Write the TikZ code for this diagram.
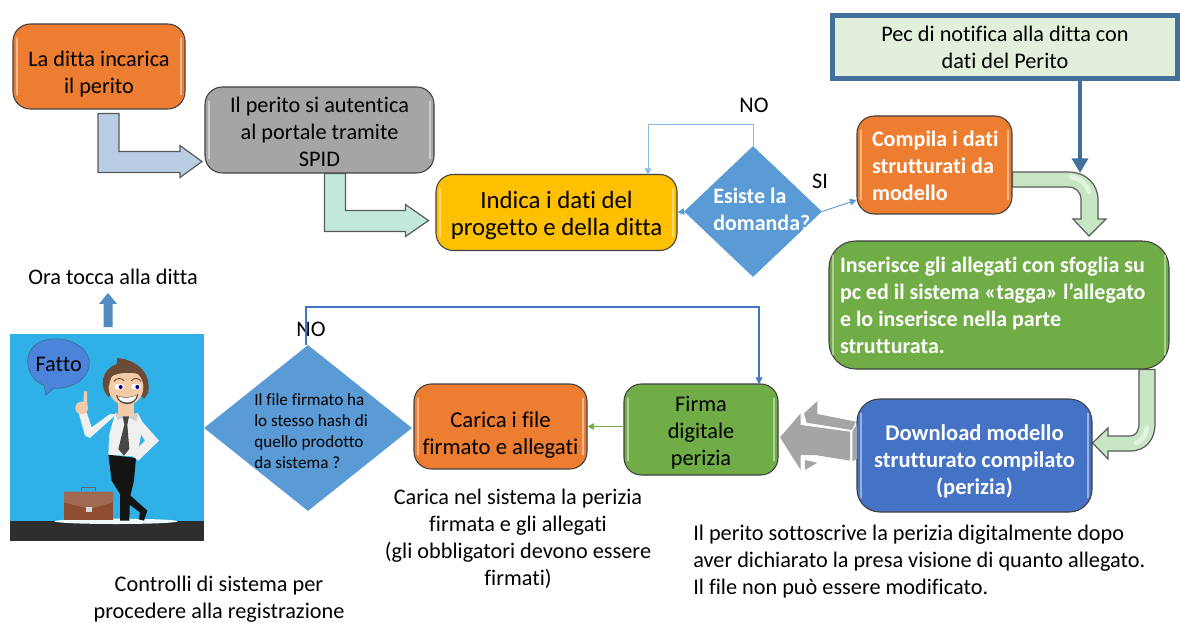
\documentclass[tikz,border=0pt]{standalone}
\usepackage{fontspec}
\setmainfont[RawFeature={-liga;-clig;-dlig}]{Carlito}
\usetikzlibrary{calc,arrows.meta,shapes.geometric}
\definecolor{orangeA}{HTML}{ED7D31}
\definecolor{grayA}{HTML}{A5A5A5}
\definecolor{yellowA}{HTML}{FFC000}
\definecolor{greenA}{HTML}{70AD47}
\definecolor{blueA}{HTML}{4472C4}
\definecolor{diaA}{HTML}{5B9BD5}
\definecolor{pecLine}{HTML}{41719C}
\definecolor{pecFill}{HTML}{E2EFDA}
\definecolor{sky}{HTML}{2FB1E8}
\definecolor{skin}{HTML}{F4CBA8}
\definecolor{hair}{HTML}{6B4A36}
\definecolor{case}{HTML}{8F4E34}
\definecolor{arrowBlue}{HTML}{B9CDE5}
\definecolor{arrowTeal}{HTML}{C3E8DE}
\definecolor{arrowGreen}{HTML}{C6E6C4}
\definecolor{arrowGlow}{HTML}{E2F3E1}
\tikzset{
  base/.style={font=\fontsize{16.7}{20.25}\selectfont,align=center,inner sep=0pt},
  gbox/.style={base,draw=black!75,line width=0.8pt,rounded corners=13pt},
  plain/.style={base},
  dia/.style={diamond,fill=diaA,inner sep=0pt,aspect=1},
  barrow/.style={draw=black!65,line width=0.9pt,line join=miter},
  glow/.style={arrowGlow,line width=3.5pt,line cap=round},
  thinarr/.style={line width=0.7pt,-{Triangle[length=5pt,width=5pt]}},
}
% text block moved down by #1 inside its node, #2 = column alignment
\newcommand{\Tx}[3]{\raisebox{\dimexpr-#1-0.25em\relax}[0pt][0pt]{\spaceskip=0pt \xspaceskip=0pt \begin{tabular}[c]{@{}#2@{}}#3\end{tabular}}}
\newcommand{\gloss}[1]{%
  \draw[white,opacity=.45,line width=1.5pt,line cap=round] ($(#1.north west)+(4.5,15)$) -- ($(#1.south west)+(4.5,-15)$);
  \draw[white,opacity=.45,line width=1.5pt,line cap=round] ($(#1.north east)+(-4.5,15)$) -- ($(#1.south east)+(-4.5,-15)$);
}
\begin{document}
\begin{tikzpicture}[x=0.75pt,y=-0.75pt]
\useasboundingbox (0,0) rectangle (1180,623);
% boxes
\node[gbox,fill=orangeA,minimum width=129pt,minimum height=63.75pt] (ditta) at (99,66.5) {\Tx{6pt}{c}{La ditta incarica\\il perito}};
\node[gbox,fill=grayA,minimum width=171.75pt,minimum height=64.5pt] (spid) at (319.5,130) {\Tx{3pt}{c}{Il perito si autentica\\al portale tramite\\SPID}};
\node[gbox,fill=yellowA,minimum width=180.75pt,minimum height=57pt,font=\fontsize{18.6}{20.25}\selectfont] (dati) at (556.5,212.5) {\Tx{2.6pt}{c}{Indica i dati del\\progetto e della ditta}};
\node[dia,minimum width=103.5pt,minimum height=98.25pt] (esiste) at (753,211.5) {};
\node[gbox,fill=orangeA,minimum width=116.25pt,minimum height=73.5pt,text=white,font=\fontsize{16.6}{20.25}\selectfont\bfseries,inner xsep=11.25pt,text width=93.75pt,align=left] (compila) at (934.5,165) {\Tx{2.5pt}{l}{Compila i dati\\strutturati da\\modello}};
\node[gbox,fill=greenA,minimum width=255pt,minimum height=96pt,text=white,font=\fontsize{16.5}{20.25}\selectfont\bfseries,inner xsep=8.25pt,text width=238.5pt,align=left,rounded corners=20pt] (inserisce) at (999,305) {\Tx{2.25pt}{l}{Inserisce gli allegati con sfoglia su\\pc ed il sistema «tagga» l’allegato\\e lo inserisce nella parte\\strutturata.}};
\node[gbox,fill=blueA,minimum width=176.25pt,minimum height=84.75pt,text=white,font=\fontsize{16.9}{20.25}\selectfont\bfseries,rounded corners=17pt] (download) at (974.5,455.5) {\Tx{4.75pt}{c}{Download modello\\strutturato compilato\\(perizia)}};
\node[gbox,fill=greenA,minimum width=115.5pt,minimum height=68.25pt] (firma) at (701,429.5) {\Tx{3pt}{c}{Firma\\digitale\\perizia}};
\node[gbox,fill=orangeA,minimum width=129.75pt,minimum height=63.75pt,font=\fontsize{17}{20.25}\selectfont] (carica) at (500.5,426.5) {\Tx{7pt}{c}{Carica i file\\firmato e allegati}};
\node[dia,minimum width=156pt,minimum height=124.5pt] (hash) at (308,428) {};
\node[draw=pecLine,line width=3.75pt,fill=pecFill,base,minimum width=258.75pt,minimum height=47.25pt] (pec) at (1005,47) {\Tx{2.25pt}{c}{Pec di notifica alla ditta con\\dati del Perito}};
\gloss{ditta}\gloss{spid}\gloss{dati}\gloss{compila}\gloss{inserisce}\gloss{download}\gloss{firma}\gloss{carica}
% diamond texts
\node[plain,text=white,font=\fontsize{16.5}{20.25}\selectfont\bfseries,align=left,anchor=west] (esisteT) at (713,209) {Esiste la\\domanda?};
\node[plain,font=\fontsize{12.85}{15.75}\selectfont,align=left,anchor=west] (hashT) at (254,431) {Il file firmato ha\\lo stesso hash di\\quello prodotto\\da sistema ?};
% free texts
\node[plain] (no1) at (754,105) {NO};
\node[plain] (si1) at (820,181) {SI};
\node[plain] (no2) at (311,329) {NO};
\node[plain] (ora) at (113,277) {Ora tocca alla ditta};
\node[plain] (ctrl) at (219,599.5) {Controlli di sistema per\\procedere alla registrazione};
\node[plain] (cnote) at (518,538.5) {Carica nel sistema la perizia\\firmata e gli allegati\\(gli obbligatori devono essere\\firmati)};
\node[plain,align=left,anchor=west] (pnote) at (693,562) {Il perito sottoscrive la perizia digitalmente dopo\\aver dichiarato la presa visione di quanto allegato.\\Il file non può essere modificato.};
% thin connectors
\coordinate (loopA) at (648,124);
\coordinate (loopB) at (648,175);
\draw[thinarr,draw=diaA!70] (esiste.north) |- (loopA) -- (loopB);
\draw[thinarr,draw=diaA] (esiste.west) -- (dati.east);
\draw[thinarr,draw=diaA] (esiste.east) -- (compila.west |- 0,200);
\draw[thinarr,draw=greenA] (firma.west |- carica.east) -- (carica.east);
\coordinate (noTop) at (306,307);
\coordinate (noEnd) at (759,384);
\draw[thinarr,line width=0.95pt,draw=blueA] (hash.north -| noTop) -- (noTop) -| (noEnd);
% block arrows
\draw[barrow,fill=arrowBlue] ($(ditta.south)+(-1,4)$) -- ++(21,0) -- ++(0,38) -- ++(61,0) -- ++(0,-6) -- ++(22,16) -- ++(-22,16) -- ++(0,-5) -- ++(-82,0) -- cycle;
\draw[barrow,fill=arrowTeal] ($(spid.south)+(5,0)$) -- ++(21,0) -- ++(0,37) -- ++(60,0) -- ++(0,-6) -- ++(23,16) -- ++(-23,16) -- ++(0,-5) -- ++(-81,0) -- cycle;
% curved arrows
\draw[barrow,fill=arrowGreen] (compila.east |- 0,172) -- (1068,172) .. controls (1086,172) and (1098,184) .. (1098,200) -- (1098,219) -- (1106,219) -- (1089,236) -- (1073,219) -- (1081,219) -- (1081,200) .. controls (1081,192) and (1076,187) .. (1068,187) -- (compila.east |- 0,187) -- cycle;
\draw[glow] (1071,177) .. controls (1080,178) and (1086,184) .. (1089,192);
\draw[barrow,fill=arrowGreen] (inserisce.south -| 1139,0) -- (inserisce.south -| 1155,0) -- (1155,423) .. controls (1155,440) and (1146,451) .. (1130,451) -- (1108,451) -- (1108,459) -- (download.east |- 0,443) -- (1108,428) -- (1108,436) -- (1130,436) .. controls (1136,436) and (1139,431) .. (1139,423) -- cycle;
\draw[glow] (1147,428) .. controls (1146,435) and (1142,441) .. (1136,443);
% pec arrow
\coordinate (pecTip) at (1080,173);
\draw[pecLine,line width=2.6pt,-{Triangle[length=11pt,width=12pt]}] (pec.south -| pecTip) -- (pecTip);
% gray block arrow
\begin{scope}[shift={(770,390)},x=0.25pt,y=-0.25pt]
\fill[grayA] (30,142) -- (92,70) -- (92,105) -- (240,125) -- (240,212) -- (135,195) -- (92,195) -- (92,240) -- cycle;
\fill[grayA] (102,70) -- (142,33) -- (142,72) -- (258,95) -- (245,120) -- (110,98) -- cycle;
\fill[grayA] (247,125) -- (262,100) -- (262,205) -- (247,215) -- cycle;
\fill[grayA] (105,210) -- (142,218) -- (105,240) -- cycle;
\end{scope}
% up arrow
\fill[diaA!90!black] (103.5,327) -- (103.5,304) -- (99,304) -- (108,293) -- (117,304) -- (112.5,304) -- (112.5,327) -- cycle;
% picture
\begin{scope}[shift={(10,334)},x=0.25pt,y=-0.25pt]
\fill[sky] (0,0) rectangle (582,560);
\fill[black!82] (0,560) rectangle (582,621);
\fill[white!92!sky] (318,562) ellipse [x radius=185,y radius=8];
% bubble
\draw[fill=diaA!85!blue,draw=pecLine,line width=0.6pt] (108,183) -- (103,155) .. controls (40,130) and (35,40) .. (100,20) .. controls (170,0) and (240,40) .. (238,90) .. controls (236,135) and (185,165) .. (130,163) -- cycle;
\node[plain] (fatto) at (146,90) {Fatto};
% briefcase
\fill[case] (162,473) rectangle (310,557);
\fill[case!85!white] (162,473) -- (310,473) -- (310,505) -- (240,525) -- (162,505) -- cycle;
\draw[black!60,line width=0.8pt] (215,472) -- (215,461) -- (257,461) -- (257,472);
\fill[black!15] (228,518) rectangle (245,535);
% legs
\fill[black!92] (295,362) -- (378,372) -- (372,440) -- (360,490) -- (358,560) -- (330,560) -- (330,480) -- (305,440) -- cycle;
\fill[black!92] (345,470) -- (412,530) -- (402,560) -- (386,556) -- (390,535) -- (335,495) -- cycle;
% shirt
\fill[black!6] (315,240) -- (385,240) -- (400,270) -- (380,368) -- (295,362) -- (298,300) -- cycle;
\fill[black!6] (320,240) -- (240,312) -- (225,305) -- (207,240) -- (230,235) -- (245,280) -- (300,240) -- cycle;
\fill[black!6] (385,250) -- (447,320) -- (385,380) -- (362,362) -- (405,320) -- (380,280) -- cycle;
\fill[black!18] (315,235) -- (345,248) -- (385,235) -- (380,262) -- (350,248) -- (322,258) -- cycle;
% tie
\fill[black!72] (338,247) -- (357,247) -- (352,272) -- (358,345) -- (342,365) -- (325,345) -- (343,272) -- cycle;
% hand
\fill[skin] (215,222) circle [radius=19];
\fill[skin] (220,210) -- (222,172) -- (231,172) -- (232,215) -- cycle;
% head
\fill[skin] (325,205) rectangle (372,245);
\fill[hair] (296,190) .. controls (268,160) and (270,110) .. (320,90) -- (322,72) .. controls (360,75) and (425,100) .. (415,175) -- (402,195) -- (340,120) -- cycle;
\fill[skin] (348,160) ellipse [x radius=52,y radius=54];
\fill[hair] (298,155) .. controls (296,115) and (325,98) .. (345,103) .. controls (375,100) and (410,112) .. (410,155) -- (395,122) .. controls (370,115) and (330,112) .. (303,128) -- cycle;
\draw[hair,line width=0.7pt] (312,142) .. controls (320,130) and (335,132) .. (342,140);
\draw[hair,line width=0.7pt] (364,140) .. controls (372,130) and (388,132) .. (393,142);
\fill[white] (328,158) ellipse [x radius=15,y radius=9];
\fill[white] (378,158) ellipse [x radius=15,y radius=9];
\fill[blue!60!black] (332,159) circle [radius=6];
\fill[blue!60!black] (382,159) circle [radius=6];
\fill[black] (333,159) circle [radius=3];
\fill[black] (383,159) circle [radius=3];
\fill[black!70] (318,183) .. controls (335,192) and (365,192) .. (385,180) .. controls (380,220) and (325,220) .. (318,183) -- cycle;
\fill[white] (323,187) .. controls (340,193) and (362,193) .. (380,184) .. controls (375,212) and (330,212) .. (323,187) -- cycle;
\end{scope}
\end{tikzpicture}
\end{document}
